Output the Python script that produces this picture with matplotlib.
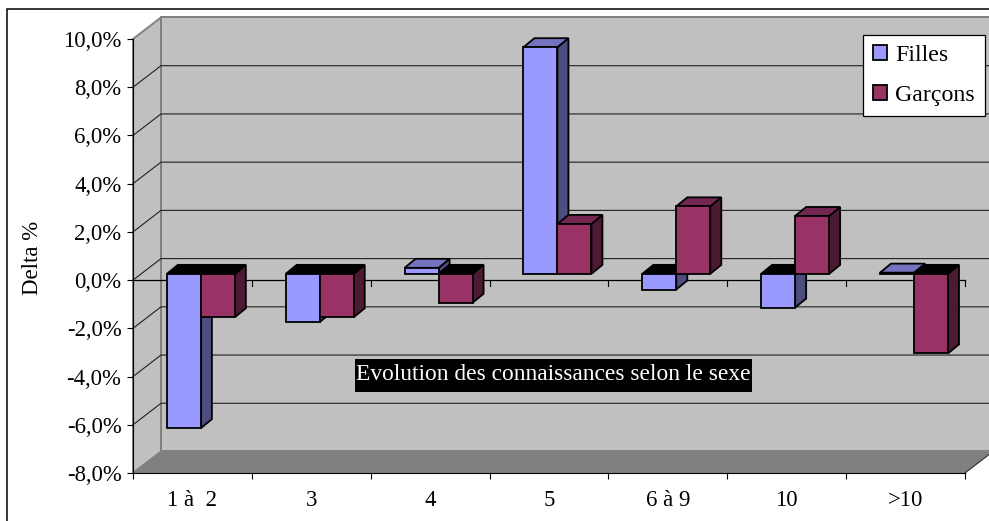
import matplotlib
matplotlib.use('Agg')
import matplotlib.pyplot as plt
from matplotlib.patches import Patch, Polygon, Rectangle

categories = ['1 à  2', '3', '4', '5', '6 à 9', '10', '>10']
filles = [-6.4, -2.0, 0.25, 9.4, -0.65, -1.4, 0.05]
garcons = [-1.8, -1.8, -1.2, 2.07, 2.8, 2.4, -3.3]
y_ticks = [-8, -6, -4, -2, 0, 2, 4, 6, 8, 10]
y_labels = ['-8,0%', '-6,0%', '-4,0%', '-2,0%', '0,0%', '2,0%', '4,0%', '6,0%', '8,0%', '10,0%']

FILLES_COLORS = ('#9999FF', '#7373BF', '#4D4D80')  # front, top, side
GARCONS_COLORS = ('#993366', '#732650', '#4D1A33')

# depth of the box and of the bars, in axis units
WALL_DX, WALL_DY = 0.2356, 0.892
BAR_DX, BAR_DY = 0.0925, 0.373
PLANE_DX, PLANE_DY = 0.071, 0.26
BAR_W = 0.286
GAP = 0.214
EDGE = 1.3

plt.rcParams['font.family'] = ['Liberation Serif', 'DejaVu Serif']
FS = 16.4

fig = plt.figure(figsize=(9.89, 5.21), dpi=100)
fig.patches.append(Rectangle((7 / 989, -0.05), 1.1, 1.05 - 9.5 / 521, transform=fig.transFigure,
                             facecolor='white', edgecolor='black', linewidth=1.1, zorder=-1))
ax = fig.add_axes([133 / 989, 1 - 473 / 521, 832 / 989, 434 / 521])
ax.set_xlim(0, 7)
ax.set_ylim(-8, 10)
ax.patch.set_visible(False)


def poly(points, color, edge='none', lw=0.0, z=1):
    ax.add_patch(Polygon(points, closed=True, facecolor=color, edgecolor=edge, linewidth=lw,
                         joinstyle='miter', clip_on=False, zorder=z))


def draw_bar(x0, value, colors, z):
    front, top, side = colors
    y0 = PLANE_DY
    y1 = value + PLANE_DY
    x1 = x0 + BAR_W
    high = max(y0, y1)
    low = min(y0, y1)
    top_color = top if value > 0 else 'black'
    poly([(x1, low), (x1 + BAR_DX, low + BAR_DY), (x1 + BAR_DX, high + BAR_DY), (x1, high)],
         side, 'black', EDGE, z)
    poly([(x0, high), (x0 + BAR_DX, high + BAR_DY), (x1 + BAR_DX, high + BAR_DY), (x1, high)],
         top_color, 'black', EDGE, z)
    poly([(x0, low), (x1, low), (x1, high), (x0, high)], front, 'black', EDGE, z)


# walls and floor
right = 7 + WALL_DX
poly([(WALL_DX, -8 + WALL_DY), (right, -8 + WALL_DY), (right, 10 + WALL_DY), (WALL_DX, 10 + WALL_DY)],
     '#C0C0C0', '#808080', 1.4, 1)
poly([(0, -8), (WALL_DX, -8 + WALL_DY), (WALL_DX, 10 + WALL_DY), (0, 10)], '#C0C0C0', '#808080', 1.4, 1)
poly([(0, -8), (7, -8), (right, -8 + WALL_DY), (WALL_DX, -8 + WALL_DY)], '#808080', z=1.5)
ax.plot([7, right], [-8, -8 + WALL_DY], color='#303030', lw=0.8, clip_on=False, zorder=1.6)

# gridlines across side wall and back wall
for t in y_ticks[1:-1]:
    ax.plot([0, WALL_DX, right], [t, t + WALL_DY, t + WALL_DY], color='#202020', lw=0.8,
            clip_on=False, zorder=2)

# category axis drawn at zero
ax.plot([0, 7], [0, 0], color='black', lw=0.9, clip_on=False, zorder=3)
for i in range(8):
    ax.plot([i, i], [0, -0.25], color='black', lw=0.8, clip_on=False, zorder=3)

for i in range(len(categories)):
    x0 = i + GAP + PLANE_DX
    draw_bar(x0, filles[i], FILLES_COLORS, 4 + i * 0.1)
    draw_bar(x0 + BAR_W, garcons[i], GARCONS_COLORS, 4.05 + i * 0.1)

# axes
for name in ('top', 'right'):
    ax.spines[name].set_visible(False)
ax.spines['left'].set_zorder(3)
ax.spines['bottom'].set_zorder(3)
ax.set_yticks(y_ticks)
ax.set_yticklabels(y_labels, fontsize=FS)
ax.tick_params(axis='y', length=4.3, width=0.8, pad=4)
ax.set_xticks(range(8))
ax.set_xticklabels([])
ax.tick_params(axis='x', which='major', length=4.3, width=0.8)
ax.set_xticks([i + 0.5 for i in range(7)], minor=True)
ax.set_xticklabels(categories, minor=True, fontsize=FS)
ax.tick_params(axis='x', which='minor', length=0, pad=12)
ax.set_ylabel('Delta %', fontsize=FS, va='center')
ax.yaxis.set_label_coords((33 - 133) / 832, (473 - 258) / 434)

# title box sits on the plot area
ax.add_patch(Rectangle(((355 - 133) / 832, (473 - 392) / 434), 397 / 832, 33 / 434, transform=ax.transAxes,
                       facecolor='black', edgecolor='none', clip_on=False, zorder=6))
ax.text((553.5 - 133) / 832, (473 - 375) / 434, 'Evolution des connaissances selon le sexe',
        transform=ax.transAxes, color='white', fontsize=16.9, ha='center', va='center', zorder=6.1)

handles = [Patch(facecolor=FILLES_COLORS[0], edgecolor='black', linewidth=1.3, label='Filles'),
           Patch(facecolor=GARCONS_COLORS[0], edgecolor='black', linewidth=1.3, label='Garçons')]
leg = ax.legend(handles=handles, loc='upper left', bbox_to_anchor=(863 / 989, 1 - 35 / 521),
                bbox_transform=fig.transFigure, fontsize=17.2, fancybox=False, framealpha=1,
                edgecolor='black', borderpad=0.42, handlelength=0.59, handleheight=0.59,
                handletextpad=0.33, labelspacing=0.8, borderaxespad=0)
leg.set_zorder(7)
leg.get_frame().set_linewidth(0.9)

fig.savefig('out.png', dpi=100)
